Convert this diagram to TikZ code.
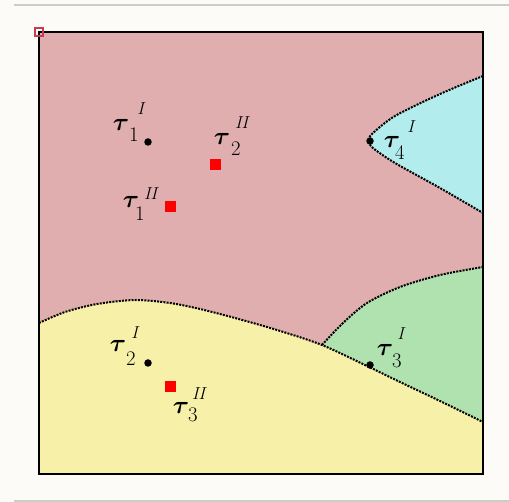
\documentclass[tikz,border=0pt]{standalone}
\usepackage{tikz}
\definecolor{bgc}{RGB}{252,251,248}
\definecolor{rulec}{RGB}{205,205,200}
\definecolor{pinkc}{RGB}{224,174,174}
\definecolor{cyanc}{RGB}{178,236,236}
\definecolor{greenc}{RGB}{176,226,176}
\definecolor{yelc}{RGB}{246,240,168}
\definecolor{cornc}{RGB}{200,60,80}
\tikzset{
  bnd/.style={line width=2pt,dash pattern=on 2pt off 1.2pt,black},
  tgl/.style={inner sep=0pt,anchor=center,font=\fontsize{29}{33}\selectfont},
  tsub/.style={inner sep=0pt,anchor=center,font=\fontsize{20}{24}\selectfont},
  tsup/.style={inner sep=0pt,anchor=center,font=\fontsize{16}{19}\selectfont},
  pt1/.style={circle,fill=black,inner sep=0pt,minimum size=7.5pt},
  pt2/.style={rectangle,fill=red,inner sep=0pt,minimum size=11pt}
}
\newcommand\tlab[6]{%
  \node[tgl] (#1t) at (#2) {$\boldsymbol{\tau}$};
  \node[tsub] (#1s) at (#4) {$#3$};
  \node[tsup] (#1p) at (#6) {$\mathit{#5}$};}
\usepackage{amsmath}
\begin{document}
\begin{tikzpicture}[x=1pt,y=-1pt]
\useasboundingbox (0,0) rectangle (509,502);
\fill[bgc] (0,0) rectangle (509,502);
\draw[rulec,line width=1.5pt] (14,5) -- (509,5);
\draw[rulec,line width=1.5pt] (14,501) -- (509,501);
% regions
\fill[pinkc] (39,32) rectangle (483,474);
\fill[greenc] plot[smooth,tension=0.5] coordinates {(322,345) (343,323) (367,303) (400,287) (440,275) (483,267)} -- (483,474) -- (322,474) -- cycle;
\fill[yelc] (39,474) -- plot[smooth,tension=0.5] coordinates {(39,323) (65,312) (97,304) (135,300) (170,303) (200,309) (235,318) (277,330) (322,345) (367,366) (400,382) (440,401) (483,422)} -- (483,474) -- cycle;
\fill[cyanc] plot[smooth,tension=0.5] coordinates {(483,76) (440,94) (395,116) (372,134) (369,141) (373,148) (395,163) (440,188) (483,213)} -- cycle;
% boundaries
\draw[bnd] plot[smooth,tension=0.5] coordinates {(39,323) (65,312) (97,304) (135,300) (170,303) (200,309) (235,318) (277,330) (322,345) (367,366) (400,382) (440,401) (483,422)};
\draw[bnd] plot[smooth,tension=0.5] coordinates {(322,345) (343,323) (367,303) (400,287) (440,275) (483,267)};
\draw[bnd] plot[smooth,tension=0.5] coordinates {(483,76) (440,94) (395,116) (372,134) (369,141) (373,148) (395,163) (440,188) (483,213)};
% frame
\draw[black,line width=1.8pt] (39,32) rectangle (483,474);
\draw[cornc,line width=1.2pt] (35,28) rectangle (43,36);
% points
\node[pt1] (p1) at (148,142) {};
\node[pt2] (q2) at (215,165) {};
\node[pt2] (q1) at (170,207) {};
\node[pt1] (p4) at (370,141) {};
\node[pt1] (p2) at (148,363) {};
\node[pt2] (q3) at (170,387) {};
\node[pt1] (p3) at (370,365) {};
% labels
\tlab{a}{121,125}{1}{134,135}{I}{142,109}
\tlab{b}{222,139}{2}{236,149}{II}{243,123}
\tlab{c}{131,202}{1}{140,214}{II}{152,194}
\tlab{d}{392,142}{4}{400,153}{I}{412,127}
\tlab{e}{118,346}{2}{131,359}{I}{136,333}
\tlab{f}{181,408}{3}{193,415}{II}{200,394}
\tlab{g}{385,350}{3}{397,361}{I}{402,334}
\end{tikzpicture}
\end{document}
